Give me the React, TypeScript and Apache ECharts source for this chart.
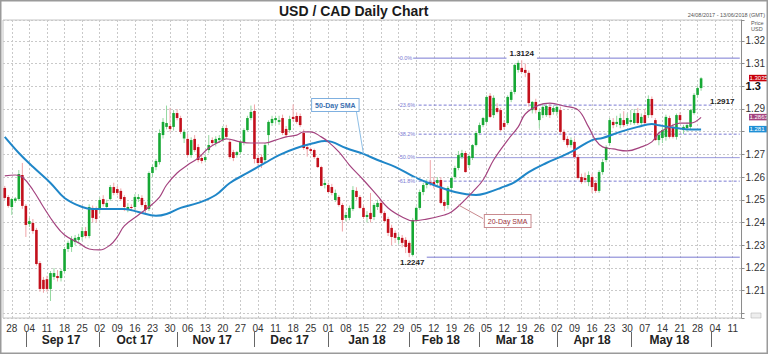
import React, { useEffect, useRef } from "react";
import * as echarts from "echarts";

const FIRST_DAY = "2017-08-24";
const LAST_DAY = "2018-06-13";
const MONTH_NAMES = ["Jan", "Feb", "Mar", "Apr", "May", "Jun", "Jul", "Aug", "Sep", "Oct", "Nov", "Dec"];

// daily candles, [open, high, low, close], one per weekday from 24 Aug 2017
const candles: number[][] = [
  [1.2552, 1.2561, 1.2499, 1.2508], [1.2512, 1.2521, 1.2465, 1.2473], [1.2468, 1.2508, 1.2433, 1.2503], [1.2496, 1.2512, 1.2486, 1.2505],
  [1.2503, 1.2631, 1.2495, 1.2614], [1.2609, 1.2662, 1.246, 1.2473], [1.2473, 1.2481, 1.2336, 1.2389], [1.2393, 1.242, 1.238, 1.2406],
  [1.2398, 1.2415, 1.235, 1.2362], [1.2367, 1.2376, 1.221, 1.2217], [1.2221, 1.223, 1.2095, 1.2107], [1.2147, 1.216, 1.209, 1.2107],
  [1.215, 1.2165, 1.2095, 1.2107], [1.2107, 1.2186, 1.2054, 1.2177], [1.216, 1.2199, 1.2147, 1.2177], [1.2164, 1.219, 1.214, 1.2155],
  [1.2155, 1.2195, 1.214, 1.2186], [1.2186, 1.2292, 1.2177, 1.2283], [1.2283, 1.232, 1.227, 1.231], [1.2292, 1.234, 1.227, 1.2327],
  [1.2314, 1.2345, 1.23, 1.2332], [1.2323, 1.235, 1.231, 1.2336], [1.2336, 1.238, 1.232, 1.2362], [1.2362, 1.238, 1.233, 1.234],
  [1.234, 1.248, 1.233, 1.2468], [1.2464, 1.2475, 1.24, 1.242], [1.2455, 1.247, 1.24, 1.2415], [1.2455, 1.251, 1.244, 1.2499],
  [1.2503, 1.252, 1.247, 1.2481], [1.2468, 1.25, 1.2455, 1.2486], [1.2503, 1.2565, 1.2495, 1.2556], [1.2556, 1.2575, 1.252, 1.253],
  [1.2547, 1.256, 1.252, 1.253], [1.2539, 1.255, 1.2495, 1.2503], [1.2512, 1.252, 1.245, 1.2468], [1.2459, 1.2485, 1.2445, 1.2468],
  [1.2468, 1.248, 1.245, 1.2464], [1.2468, 1.2525, 1.2455, 1.2512], [1.2503, 1.2525, 1.249, 1.2512], [1.2508, 1.252, 1.247, 1.2477],
  [1.2477, 1.249, 1.244, 1.2455], [1.2459, 1.2625, 1.245, 1.2618], [1.2618, 1.2655, 1.26, 1.2644], [1.2644, 1.268, 1.263, 1.2671],
  [1.2666, 1.281, 1.2655, 1.2794], [1.2785, 1.286, 1.277, 1.2843], [1.2821, 1.2915, 1.281, 1.2838], [1.2825, 1.2905, 1.28, 1.2812],
  [1.2821, 1.2895, 1.2805, 1.2882], [1.2882, 1.29, 1.285, 1.286], [1.286, 1.287, 1.279, 1.2799], [1.277, 1.281, 1.275, 1.2799],
  [1.2768, 1.279, 1.269, 1.2697], [1.2697, 1.2775, 1.2685, 1.2763], [1.2768, 1.2785, 1.271, 1.2719], [1.2732, 1.2745, 1.2665, 1.2675],
  [1.2684, 1.27, 1.266, 1.2671], [1.2675, 1.27, 1.2665, 1.2688], [1.2719, 1.2785, 1.2705, 1.2741], [1.2763, 1.2775, 1.274, 1.275],
  [1.275, 1.278, 1.2735, 1.2768], [1.2763, 1.2785, 1.275, 1.2772], [1.2763, 1.2825, 1.2755, 1.2816], [1.2816, 1.283, 1.277, 1.2777],
  [1.2755, 1.2765, 1.268, 1.2688], [1.271, 1.272, 1.267, 1.2684], [1.2697, 1.2715, 1.2685, 1.271], [1.271, 1.2765, 1.27, 1.2755],
  [1.275, 1.2815, 1.274, 1.2807], [1.2807, 1.287, 1.28, 1.286], [1.286, 1.2915, 1.285, 1.2887], [1.2891, 1.292, 1.266, 1.268],
  [1.2684, 1.27, 1.265, 1.2662], [1.2688, 1.27, 1.264, 1.2662], [1.2675, 1.275, 1.2665, 1.2741], [1.2785, 1.285, 1.274, 1.2843],
  [1.2838, 1.287, 1.2825, 1.2856], [1.2851, 1.287, 1.2835, 1.286], [1.2843, 1.287, 1.283, 1.2851], [1.286, 1.2875, 1.2785, 1.2794],
  [1.2812, 1.2825, 1.2775, 1.2785], [1.2807, 1.287, 1.2795, 1.2856], [1.2865, 1.292, 1.2845, 1.2856], [1.2869, 1.2885, 1.2835, 1.2843],
  [1.2869, 1.288, 1.282, 1.2829], [1.2794, 1.281, 1.272, 1.2728], [1.2732, 1.2745, 1.269, 1.2723], [1.2723, 1.273, 1.2705, 1.2715],
  [1.2719, 1.2725, 1.268, 1.2688], [1.2684, 1.269, 1.264, 1.2644], [1.2644, 1.265, 1.256, 1.2561], [1.2565, 1.259, 1.255, 1.2574],
  [1.2565, 1.2575, 1.253, 1.2534], [1.2556, 1.257, 1.252, 1.253], [1.2499, 1.2545, 1.249, 1.253], [1.2512, 1.252, 1.247, 1.2477],
  [1.2477, 1.2485, 1.236, 1.2411], [1.242, 1.2445, 1.2405, 1.2433], [1.242, 1.2475, 1.241, 1.2464], [1.2459, 1.256, 1.245, 1.2543],
  [1.2539, 1.2555, 1.25, 1.2512], [1.2512, 1.252, 1.246, 1.2464], [1.2464, 1.2475, 1.2415, 1.2424], [1.2424, 1.245, 1.24, 1.2433],
  [1.2442, 1.253, 1.24, 1.2415], [1.2424, 1.2485, 1.241, 1.2477], [1.2468, 1.25, 1.2455, 1.2486], [1.2486, 1.25, 1.2435, 1.2442],
  [1.2442, 1.245, 1.24, 1.2406], [1.2415, 1.2425, 1.234, 1.2354], [1.2376, 1.239, 1.23, 1.2336], [1.2354, 1.2365, 1.231, 1.2332],
  [1.2323, 1.235, 1.2305, 1.2336], [1.2332, 1.2345, 1.229, 1.231], [1.2323, 1.2335, 1.2265, 1.2292], [1.231, 1.232, 1.2247, 1.2266],
  [1.2257, 1.242, 1.225, 1.2411], [1.2411, 1.247, 1.24, 1.2464], [1.2464, 1.2545, 1.2455, 1.2534], [1.2534, 1.2575, 1.252, 1.2565],
  [1.2565, 1.259, 1.255, 1.2578], [1.2578, 1.2675, 1.256, 1.2574], [1.2578, 1.26, 1.255, 1.2565], [1.2574, 1.26, 1.2555, 1.2587],
  [1.2587, 1.26, 1.248, 1.2486], [1.249, 1.25, 1.245, 1.2473], [1.2477, 1.256, 1.246, 1.2552], [1.2552, 1.26, 1.254, 1.2596],
  [1.26, 1.265, 1.259, 1.264], [1.264, 1.2715, 1.263, 1.2697], [1.2688, 1.272, 1.268, 1.2706], [1.2706, 1.2715, 1.262, 1.2622],
  [1.2653, 1.27, 1.264, 1.2693], [1.2684, 1.2745, 1.2675, 1.2741], [1.2741, 1.28, 1.2735, 1.2794], [1.2794, 1.284, 1.2785, 1.2829],
  [1.2829, 1.2865, 1.282, 1.286], [1.2843, 1.296, 1.2835, 1.2953], [1.2958, 1.297, 1.286, 1.2865], [1.2873, 1.296, 1.286, 1.2949],
  [1.2904, 1.2925, 1.288, 1.2887], [1.2895, 1.2905, 1.28, 1.2807], [1.2838, 1.285, 1.281, 1.2821], [1.2838, 1.296, 1.283, 1.2953],
  [1.294, 1.2985, 1.293, 1.2975], [1.2975, 1.31, 1.2965, 1.3094], [1.3072, 1.3115, 1.306, 1.3103], [1.3081, 1.3124, 1.306, 1.3063],
  [1.3072, 1.31, 1.304, 1.3059], [1.3059, 1.307, 1.291, 1.2926], [1.2895, 1.2935, 1.288, 1.2931], [1.2931, 1.2945, 1.288, 1.2895],
  [1.2851, 1.29, 1.2815, 1.2887], [1.2873, 1.2925, 1.286, 1.2909], [1.2873, 1.292, 1.2865, 1.2913], [1.2909, 1.2925, 1.286, 1.2873],
  [1.2887, 1.2915, 1.2875, 1.2904], [1.2887, 1.292, 1.287, 1.2909], [1.2895, 1.291, 1.279, 1.2799], [1.2799, 1.281, 1.2755, 1.2763],
  [1.2768, 1.278, 1.273, 1.2741], [1.2741, 1.2775, 1.273, 1.2763], [1.2755, 1.277, 1.268, 1.2688], [1.2688, 1.27, 1.259, 1.2596],
  [1.26, 1.2615, 1.257, 1.2578], [1.2596, 1.262, 1.2575, 1.2587], [1.2578, 1.2625, 1.256, 1.2609], [1.26, 1.2615, 1.253, 1.2556],
  [1.2574, 1.2585, 1.253, 1.2539], [1.2539, 1.263, 1.253, 1.2622], [1.2622, 1.268, 1.261, 1.2666], [1.2675, 1.274, 1.2665, 1.2732],
  [1.275, 1.286, 1.274, 1.2851], [1.2843, 1.286, 1.2815, 1.2829], [1.2834, 1.287, 1.282, 1.2843], [1.2829, 1.288, 1.2815, 1.286],
  [1.2851, 1.289, 1.282, 1.2829], [1.2834, 1.288, 1.2825, 1.286], [1.2843, 1.2895, 1.283, 1.2851], [1.2838, 1.29, 1.283, 1.2882],
  [1.2882, 1.2905, 1.283, 1.2838], [1.2838, 1.288, 1.282, 1.2865], [1.2873, 1.29, 1.283, 1.2838], [1.2873, 1.296, 1.286, 1.2944],
  [1.2944, 1.2955, 1.286, 1.2873], [1.2851, 1.286, 1.276, 1.2763], [1.2763, 1.28, 1.274, 1.2785], [1.2772, 1.282, 1.275, 1.2807],
  [1.2777, 1.2875, 1.276, 1.2865], [1.286, 1.287, 1.277, 1.2777], [1.2821, 1.2835, 1.277, 1.2777], [1.2777, 1.288, 1.2765, 1.2873],
  [1.2873, 1.2885, 1.284, 1.2851], [1.2807, 1.283, 1.279, 1.2821], [1.2816, 1.284, 1.28, 1.2829], [1.2821, 1.29, 1.281, 1.2895],
  [1.2882, 1.297, 1.2875, 1.2962], [1.2962, 1.3, 1.295, 1.2992], [1.2992, 1.304, 1.298, 1.3035],
];

// moving averages: [weekday index, value]
const sma20Points: number[][] = [
  [0, 1.2605], [3, 1.2609], [5, 1.26], [8, 1.2543], [11, 1.2468], [14, 1.2398], [17, 1.2345], [21, 1.231], [24, 1.2283],
  [27, 1.2279], [30, 1.2301], [32, 1.2336], [34, 1.2385], [38, 1.2433], [41, 1.2468], [44, 1.2512], [46, 1.2565], [49, 1.2618],
  [52, 1.2653], [55, 1.2684], [58, 1.2728], [61, 1.2755], [63, 1.2768], [67, 1.2755], [70, 1.275], [74, 1.275], [77, 1.2763],
  [80, 1.2777], [83, 1.2785], [85, 1.2799], [87, 1.2799], [90, 1.2777], [92, 1.2755], [95, 1.2711], [98, 1.2653], [102, 1.2587],
  [106, 1.2517], [109, 1.2464], [113, 1.2424], [116, 1.2407], [120, 1.2415], [125, 1.2433], [127, 1.2446], [130, 1.2486],
  [133, 1.2534], [136, 1.2587], [139, 1.2675], [143, 1.2763], [146, 1.2821], [148, 1.2878], [152, 1.2918], [155, 1.2926],
  [159, 1.2913], [163, 1.2896], [166, 1.2821], [168, 1.2763], [170, 1.2733], [173, 1.2724], [177, 1.2715], [181, 1.2733],
  [184, 1.2755], [186, 1.2794], [189, 1.2821], [192, 1.2838], [195, 1.2838], [198, 1.2863],
];
const sma50Points: number[][] = [
  [0, 1.2777], [4, 1.2706], [8, 1.2645], [13, 1.2574], [17, 1.2508], [22, 1.2468], [25, 1.2459], [30, 1.2459], [34, 1.2459],
  [38, 1.2446], [43, 1.2429], [46, 1.2437], [50, 1.2464], [55, 1.2486], [60, 1.2521], [64, 1.2574], [69, 1.2618], [74, 1.2662],
  [78, 1.2697], [83, 1.2728], [88, 1.275], [91, 1.2759], [93, 1.2755], [97, 1.2728], [102, 1.2702], [106, 1.2675], [111, 1.2645],
  [117, 1.2596], [122, 1.2565], [128, 1.2534], [134, 1.2521], [137, 1.253], [141, 1.2552], [145, 1.2578], [149, 1.2622],
  [154, 1.2662], [158, 1.2689], [162, 1.2719], [167, 1.2763], [170, 1.2772], [175, 1.2799], [180, 1.2821], [184, 1.2834],
  [186, 1.2828], [191, 1.2816], [195, 1.281], [198, 1.281],
];

// Fibonacci retracement of the 1.2247 -> 1.3124 swing
const fibLevels = [1.3124, 1.2917, 1.2789, 1.26855, 1.2582, 1.2247];
const fibNames = ["0.0%", "23.6%", "38.2%", "50.0%", "61.8%", "100.0%"];
const fibFromDay = [112, 112, 112, 112, 112, 120];
const fibToDay = [209, 201, 209, 209, 209, 209];
const fibDashed = [false, true, true, false, true, false];

const swingHigh = { day: 147, value: 1.3124 };
const swingLow = { day: 115, value: 1.2247 };
const level236 = { day: 204, value: 1.2917 };

const lastClose = 1.3035;
const lastSma20 = 1.2863;
const lastSma50 = 1.281;

const FONT = '"Liberation Sans", Arial, Helvetica, sans-serif';
const UP = "#16a834";
const DOWN = "#c3101c";
const UP_WICK = "#93d89f";
const DOWN_WICK = "#f0a4a8";
const FIB = "#7a7ad2";
const BLUE = "#1f86c8";
const PURPLE = "#a4437f";

function buildWeekdays(a: string, b: string): string[] {
  const out: string[] = [];
  const d = new Date(a + "T00:00:00Z");
  const e = new Date(b + "T00:00:00Z");
  while (d.getTime() <= e.getTime()) {
    const w = d.getUTCDay();
    if (w !== 0 && w !== 6) out.push(d.toISOString().slice(0, 10));
    d.setUTCDate(d.getUTCDate() + 1);
  }
  return out;
}

const dates = buildWeekdays(FIRST_DAY, LAST_DAY);
const dow = (s: string) => new Date(s + "T00:00:00Z").getUTCDay();
const monthKey = (s: string) => s.slice(0, 7);

const monthStarts = new Set<number>();
const monthMids = new Set<number>();
(() => {
  let first = 0;
  for (let i = 1; i <= dates.length; i++) {
    if (i === dates.length || monthKey(dates[i]) !== monthKey(dates[i - 1])) {
      const last = i - 1;
      if (last - first + 1 >= 15) monthMids.add(Math.floor((first + last) / 2));
      if (i < dates.length) monthStarts.add(i);
      first = i;
    }
  }
})();

export default function App() {
  const ref = useRef<HTMLDivElement>(null);
  useEffect(() => {
    if (!ref.current) return;
    const chart = echarts.init(ref.current, undefined, { renderer: "svg" });

    const candleData = candles.map((c, i) => [i, c[0], c[1], c[2], c[3]]);

    const fibSeries = fibLevels.map((lv, k) => ({
      type: "line",
      name: "fib" + fibNames[k],
      data: [
        [fibFromDay[k], lv],
        [fibToDay[k], lv],
      ],
      symbol: "none",
      silent: true,
      z: 2,
      lineStyle: { color: FIB, width: 1, type: fibDashed[k] ? [3, 2] : "solid", opacity: k === 3 ? 0.75 : 1 },
    }));

    const option: any = {
      animation: false,
      backgroundColor: "#ffffff",
      textStyle: { fontFamily: FONT },
      grid: { left: 3, right: 20, top: 20, bottom: 37, show: true, borderColor: "#c4c4c4", borderWidth: 1, backgroundColor: "#fff" },
      xAxis: [
        {
          type: "category",
          data: dates,
          boundaryGap: true,
          axisLine: { show: false },
          axisTick: { show: false },
          axisLabel: {
            interval: (_i: number, v: string) => dow(v) === 1,
            formatter: (v: string) => v.slice(8, 10),
            fontSize: 10,
            color: "#333",
            margin: 5,
            fontFamily: FONT,
          },
          splitLine: {
            show: true,
            interval: (_i: number, v: string) => dow(v) === 1,
            alignWithLabel: true,
            lineStyle: { color: "#c9c9c9", type: [2, 2], width: 1 },
          },
        },
        {
          type: "category",
          data: dates,
          boundaryGap: true,
          position: "bottom",
          offset: 14,
          axisLine: { show: false },
          axisTick: {
            show: true,
            alignWithLabel: true,
            interval: (i: number) => monthStarts.has(i),
            length: 15,
            lineStyle: { color: "#666", width: 1 },
          },
          axisLabel: {
            interval: (i: number) => monthMids.has(i),
            formatter: (v: string) => MONTH_NAMES[parseInt(v.slice(5, 7), 10) - 1] + " " + v.slice(2, 4),
            fontSize: 12,
            fontWeight: "bold",
            color: "#222",
            margin: 2,
            fontFamily: FONT,
          },
          splitLine: { show: false },
        },
      ],
      yAxis: {
        type: "value",
        position: "right",
        min: 1.1979,
        max: 1.3292,
        splitNumber: 13,
        minInterval: 0.01,
        maxInterval: 0.01,
        axisLine: { show: true, lineStyle: { color: "#8c8c8c" } },
        axisTick: { show: true, length: 3, lineStyle: { color: "#8c8c8c" } },
        axisLabel: {
          margin: 4,
          fontSize: 10,
          color: "#333",
          fontFamily: FONT,
          formatter: (v: number) => {
            const k = Math.round(v * 100);
            // 1.20 sits under the corner icon and 1.28 under the 50-day price tag
            if (Math.abs(v * 100 - k) > 1e-6 || k <= 120 || k === 128) return "";
            if (k === 130) return "{b|1.3}";
            return (k / 100).toFixed(2);
          },
          rich: { b: { fontSize: 11, lineHeight: 10, fontWeight: "bold", color: "#111", fontFamily: FONT } },
        },
        splitLine: { show: true, lineStyle: { color: "#c9c9c9", type: [2, 2], width: 1 } },
      },
      series: [
        ...fibSeries,
        {
          type: "custom",
          name: "USD/CAD",
          xAxisIndex: 0,
          yAxisIndex: 0,
          data: candleData,
          encode: { x: 0, y: [1, 2, 3, 4] },
          z: 3,
          renderItem: (_p: any, api: any) => {
            const idx = api.value(0);
            const o = api.value(1);
            const h = api.value(2);
            const l = api.value(3);
            const c = api.value(4);
            const po = api.coord([idx, o]);
            const pc = api.coord([idx, c]);
            const ph = api.coord([idx, h]);
            const pl = api.coord([idx, l]);
            const w = api.size([1, 0])[0] * 0.74;
            const up = c >= o;
            const top = Math.min(po[1], pc[1]);
            const bh = Math.max(Math.abs(po[1] - pc[1]), 1);
            return {
              type: "group",
              children: [
                {
                  type: "line",
                  shape: { x1: po[0], y1: ph[1], x2: po[0], y2: pl[1] },
                  style: { stroke: up ? UP_WICK : DOWN_WICK, lineWidth: 1 },
                },
                {
                  type: "rect",
                  shape: { x: po[0] - w / 2, y: top, width: w, height: bh },
                  style: { fill: up ? UP : DOWN },
                },
              ],
            };
          },
        },
        {
          type: "line",
          name: "50-Day SMA",
          data: sma50Points,
          smooth: 0.4,
          symbol: "none",
          z: 4,
          lineStyle: { color: BLUE, width: 2 },
        },
        {
          type: "line",
          name: "20-Day SMA",
          data: sma20Points,
          smooth: 0.4,
          symbol: "none",
          z: 4,
          lineStyle: { color: PURPLE, width: 1.2 },
        },
      ],
    };
    chart.setOption(option);

    const px = (d: number, v: number) =>
      chart.convertToPixel({ xAxisIndex: 0, yAxisIndex: 0 } as any, [d, v]) as unknown as number[];
    const yOf = (v: number) => px(0, v)[1];

    const txt = (x: number, y: number, text: string, extra: any = {}, z = 20) => ({
      type: "text",
      x,
      y,
      z,
      style: {
        text,
        fontFamily: FONT,
        fontSize: 8,
        fill: "#222",
        align: "left",
        verticalAlign: "middle",
        textAlign: "left",
        textVerticalAlign: "middle",
        ...extra,
      },
    });

    const g: any[] = [];
    // frame
    g.push({ type: "rect", z: 30, shape: { x: 0.75, y: 0.75, width: 766.5, height: 352.5 }, style: { fill: "none", stroke: "#9a9a9a", lineWidth: 1.5 } });
    // title
    g.push(txt(279, 11, "USD / CAD Daily Chart", { fontSize: 14, fontWeight: "bold", fill: "#1a1a1a" }));
    g.push(txt(765, 15, "24/08/2017 - 13/06/2018 (GMT)", { fontSize: 5.5, fill: "#555", align: "right", textAlign: "right" }));
    g.push(txt(751, 23, "Price", { fontSize: 5.5, fill: "#555" }));
    g.push(txt(751, 29, "USD", { fontSize: 5.5, fill: "#555" }));

    // fib percent labels
    fibLevels.forEach((lv, k) => {
      if (k === 5) return;
      const p = px(fibFromDay[k], lv);
      g.push(txt(p[0] + 1, p[1] - 0.5, fibNames[k], { fontSize: 5.5, fill: FIB, backgroundColor: "#fff", padding: [0, 1, 0, 0] }));
    });
    const ph = px(swingHigh.day, swingHigh.value);
    g.push(txt(ph[0], ph[1] - 5, swingHigh.value.toFixed(4), { fontSize: 8, fontWeight: "bold", align: "center", textAlign: "center", backgroundColor: "#fff", padding: [3, 3, 3, 3] }));
    const pl = px(swingLow.day, swingLow.value);
    g.push(txt(pl[0] + 3, pl[1] + 5, swingLow.value.toFixed(4), { fontSize: 8, fontWeight: "bold", align: "center", textAlign: "center" }));
    const p236 = px(level236.day, level236.value);
    g.push(txt(p236[0], p236[1] - 4, level236.value.toFixed(4), { fontSize: 8, fontWeight: "bold", align: "center", textAlign: "center" }));

    // annotations
    const a50 = px(94, 1.2917);
    g.push(txt(a50[0], a50[1], "50-Day SMA", { fontSize: 7, fontWeight: "bold", fill: "#3a6fb0", align: "center", textAlign: "center", backgroundColor: "#fff", borderColor: "#7fb0e0", borderWidth: 1, padding: [3, 3, 2, 3] }, 22));
    const l50a = px(100.4, 1.2887);
    const l50b = px(102, 1.2702);
    g.push({ type: "line", z: 21, shape: { x1: l50a[0], y1: l50a[1], x2: l50b[0], y2: l50b[1] }, style: { stroke: "#8fbfe6", lineWidth: 1 } });
    const a20 = px(143, 1.2406);
    g.push(txt(a20[0], a20[1], "20-Day SMA", { fontSize: 7, fill: "#9a2f3a", align: "center", textAlign: "center", backgroundColor: "#fff", borderColor: "#c98a8e", borderWidth: 1, padding: [3, 3, 2, 3] }, 22));
    const l20a = px(136.4, 1.2417);
    const l20b = px(129, 1.2477);
    g.push({ type: "line", z: 21, shape: { x1: l20a[0], y1: l20a[1], x2: l20b[0], y2: l20b[1] }, style: { stroke: "#c98a8e", lineWidth: 1 } });

    // price tags on the axis
    const tag = (v: number, text: string, bg: string) => {
      const y = yOf(v);
      g.push({ type: "rect", z: 24, shape: { x: 749, y: y - 3.5, width: 19, height: 6.5 }, style: { fill: bg } });
      g.push(txt(749.5, y - 0.3, text, { fontSize: 6, lineHeight: 6, fill: "#fff" }, 25));
    };
    tag(lastClose, lastClose.toFixed(4), "#c8000a");
    tag(lastSma20, lastSma20.toFixed(4), PURPLE);
    tag(lastSma50, String(lastSma50), "#1f8fd6");

    // small icon bottom right
    g.push({ type: "rect", z: 24, shape: { x: 751, y: 313, width: 10, height: 5 }, style: { fill: "#eee", stroke: "#aaa", lineWidth: 0.5 } });

    chart.setOption({ graphic: g });

    return () => chart.dispose();
  }, []);

  return (
    <div
      ref={ref}
      style={{ position: "fixed", left: 0, top: 0, width: 768, height: 355, background: "#fff" }}
    />
  );
}
